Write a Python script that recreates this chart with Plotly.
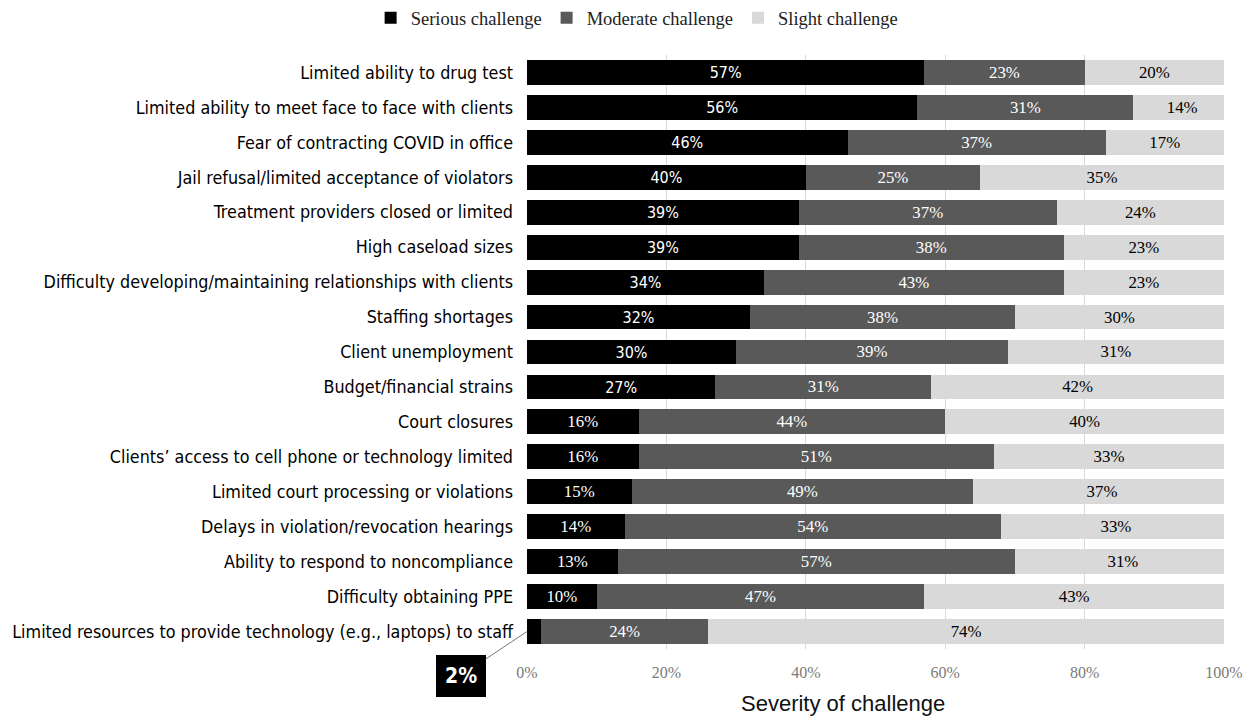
import plotly.graph_objects as go

categories = [
    "Limited ability to drug test",
    "Limited ability to meet face to face with clients",
    "Fear of contracting COVID in office",
    "Jail refusal/limited acceptance of violators",
    "Treatment providers closed or limited",
    "High caseload sizes",
    "Difficulty developing/maintaining relationships with clients",
    "Staffing shortages",
    "Client unemployment",
    "Budget/financial strains",
    "Court closures",
    "Clients\u2019 access to cell phone or technology limited",
    "Limited court processing or violations",
    "Delays in violation/revocation hearings",
    "Ability to respond to noncompliance",
    "Difficulty obtaining PPE",
    "Limited resources to provide technology (e.g., laptops) to staff",
]
serious = [57, 56, 46, 40, 39, 39, 34, 32, 30, 27, 16, 16, 15, 14, 13, 10, 2]
moderate = [23, 31, 37, 25, 37, 38, 43, 38, 39, 31, 44, 51, 49, 54, 57, 47, 24]
slight = [20, 14, 17, 35, 24, 23, 23, 30, 31, 42, 40, 33, 37, 33, 31, 43, 74]

series = [
    ("Serious challenge", serious, "#000000", "white"),
    ("Moderate challenge", moderate, "#595959", "white"),
    ("Slight challenge", slight, "#d9d9d9", "black"),
]

SANS = "DejaVu Sans Condensed, sans-serif"
SERIF = "Liberation Serif, Times New Roman, serif"

fig = go.Figure()
for name, vals, color, tcolor in series:
    texts = [f"{v}%" if v >= 5 else "" for v in vals]
    if name == "Serious challenge":
        fams = [SANS if v >= 20 else SERIF for v in vals]
    else:
        fams = SERIF
    fig.add_trace(go.Bar(
        name=name,
        y=categories,
        x=[v / 100 for v in vals],
        orientation="h",
        marker=dict(color=color, line=dict(width=0)),
        text=texts,
        textposition="inside",
        insidetextanchor="middle",
        textangle=0,
        textfont=dict(color=tcolor, size=17, family=fams),
        hoverinfo="skip",
    ))

fig.update_layout(
    barmode="stack",
    bargap=0.29,
    width=1254,
    height=717,
    paper_bgcolor="white",
    plot_bgcolor="white",
    margin=dict(l=527, r=30, t=54.5, b=67.5, autoexpand=False),
    uniformtext=dict(mode=False),
    legend=dict(
        orientation="h",
        x=0.158, xanchor="center",
        y=1.062, yanchor="middle",
        font=dict(family=SERIF, size=18.5, color="#222"),
        itemwidth=30,
        traceorder="normal",
    ),
    xaxis=dict(
        range=[0, 1],
        tickvals=[0, 0.2, 0.4, 0.6, 0.8, 1.0],
        ticktext=["0%", "20%", "40%", "60%", "80%", "100%"],
        showgrid=True,
        gridcolor="#d9d9d9",
        gridwidth=1,
        zeroline=False,
        showline=False,
        ticks="",
        ticklabelstandoff=12,
        automargin=False,
        tickfont=dict(family=SERIF, size=16, color="#7a7a7a"),
        fixedrange=True,
    ),
    yaxis=dict(
        categoryorder="array",
        categoryarray=categories,
        autorange="reversed",
        showgrid=False,
        zeroline=False,
        showline=False,
        ticks="",
        automargin=False,
        ticklabelstandoff=13,
        tickfont=dict(family=SANS, size=17.8, color="#000"),
    ),
    showlegend=True,
)

# axis title
fig.add_annotation(
    text="Severity of challenge",
    xref="paper", yref="paper",
    x=0.453, y=-0.092,
    xanchor="center", yanchor="middle",
    showarrow=False,
    font=dict(family="Liberation Sans, Arial, sans-serif", size=22, color="#111"),
)

# callout for the smallest segment
fig.add_annotation(
    text="<b>2%</b>",
    xref="x", yref="y",
    x=0, y=categories[-1],
    ax=-66, ay=44,
    showarrow=True,
    arrowhead=0,
    arrowwidth=1,
    arrowcolor="#777",
    bgcolor="black",
    bordercolor="black",
    borderpad=8,
    font=dict(family=SANS, size=21, color="white"),
)

fig.write_html("out.html")
